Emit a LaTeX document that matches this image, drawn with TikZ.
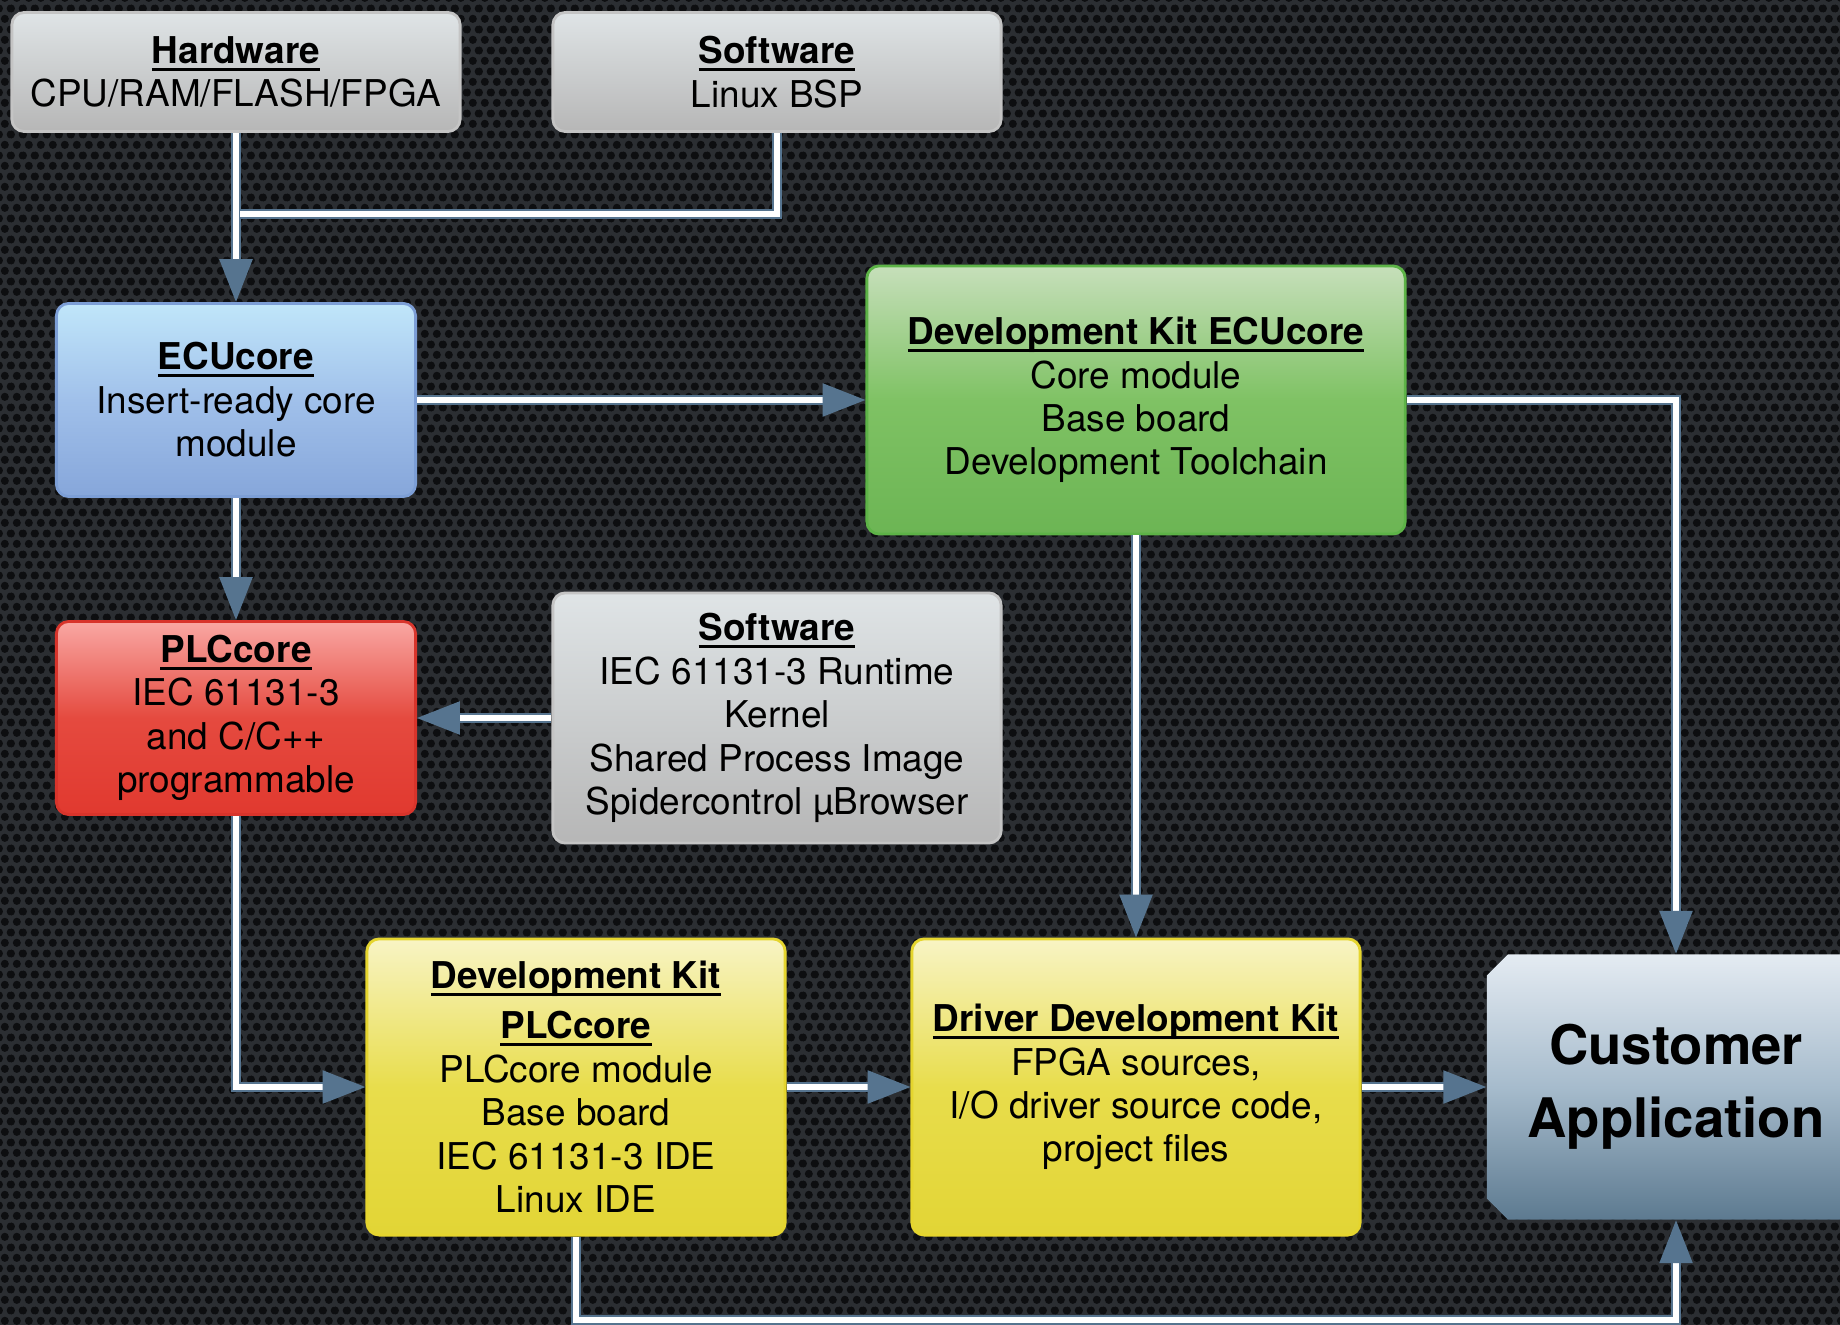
\documentclass[tikz,border=0pt]{standalone}
\usepackage{fontspec}
\setmainfont{TeX Gyre Heros}
\usepackage{xcolor}
\usepackage{tikz}
\usetikzlibrary{arrows.meta,patterns.meta,shapes.misc}

\definecolor{meshbase}{HTML}{2B2E32}
\definecolor{meshhole}{HTML}{0D0E10}
\definecolor{linkblue}{HTML}{56748F}
\definecolor{graytop}{HTML}{DFE4E6}
\definecolor{graybot}{HTML}{B6B6B6}
\definecolor{grayedge}{HTML}{C4C4C4}
\definecolor{bluetop}{HTML}{C0E6FA}
\definecolor{bluemid}{HTML}{A0C0EA}
\definecolor{bluebot}{HTML}{86A6DA}
\definecolor{blueedge}{HTML}{7C9ED6}
\definecolor{greentop}{HTML}{C6DFBA}
\definecolor{greenmid}{HTML}{7FC264}
\definecolor{greenbot}{HTML}{6CB554}
\definecolor{greenedge}{HTML}{5DB347}
\definecolor{redtop}{HTML}{F9A7A3}
\definecolor{redmid}{HTML}{E54A3F}
\definecolor{redbot}{HTML}{E1392F}
\definecolor{rededge}{HTML}{D8342B}
\definecolor{yellowtop}{HTML}{F8F4C4}
\definecolor{yellowmid}{HTML}{E8DD4C}
\definecolor{yellowbot}{HTML}{E2D535}
\definecolor{yellowedge}{HTML}{E5D52E}
\definecolor{custtop}{HTML}{E4EBF2}
\definecolor{custmid}{HTML}{A6BBCC}
\definecolor{custbot}{HTML}{5D7A90}

% bold title with a heavier underline set a little below the baseline
\newcommand{\boxhead}[1]{\setbox0\hbox{\textbf{#1}}\rlap{\rule[-2.1pt]{\wd0}{0.85pt}}\box0}

\tikzdeclarepattern{
  name=mesh holes,
  type=colored,
  bottom left={(0pt,0pt)},
  top right={(3.5pt,6.06pt)},
  tile size={(3.5pt,6.06pt)},
  code={
    \fill[meshhole] (1.75pt,1.515pt) circle (1.2pt);
    \fill[meshhole] (0pt,4.545pt) circle (1.2pt);
    \fill[meshhole] (3.5pt,4.545pt) circle (1.2pt);
  }
}

\tikzset{
  box/.style={rounded corners=3.5pt, line width=0.8pt, align=center, inner sep=0pt,
    font=\fontsize{10.5}{12.35}\selectfont},
  graybox/.style={box, draw=grayedge, top color=graytop, bottom color=graybot},
  bluebox/.style={box, draw=blueedge, top color=bluetop, bottom color=bluebot, middle color=bluemid},
  greenbox/.style={box, draw=greenedge, top color=greentop, bottom color=greenbot, middle color=greenmid},
  redbox/.style={box, draw=rededge, top color=redtop, bottom color=redbot, middle color=redmid},
  yellowbox/.style={box, draw=yellowedge, top color=yellowtop, bottom color=yellowbot, middle color=yellowmid},
  custbox/.style={chamfered rectangle, chamfered rectangle corners={north west,south west},
    chamfered rectangle xsep=3pt, chamfered rectangle ysep=3pt, inner sep=0pt, align=center,
    top color=custtop, bottom color=custbot, middle color=custmid,
    font=\fontsize{15.5}{20.7}\selectfont\bfseries},
  link/.style={draw=linkblue, double=white, double distance=1.7pt, line width=0.6pt},
  arrowlink/.style={link, -{Triangle[width=9.4pt,length=12.2pt]}}
}

\begin{document}
\begin{tikzpicture}[x=0.01cm, y=-0.01cm]
    \useasboundingbox (0,0) rectangle (1840,1325);
    \clip (0,0) rectangle (1840,1325);
    \fill[meshbase] (0,0) rectangle (1840,1325);
    \fill[pattern=mesh holes] (0,0) rectangle (1840,1325);

    % top row
    \node[graybox, minimum width=4.48cm, minimum height=1.19cm] (hw) at (236,72) {\boxhead{Hardware}\\CPU/RAM/FLASH/FPGA};
    \node[graybox, minimum width=4.48cm, minimum height=1.19cm] (swtop) at (777,72) {\boxhead{Software}\\Linux BSP};

    % core modules
    \node[bluebox, minimum width=3.59cm, minimum height=1.93cm] (ecu) at (236,400) {\boxhead{ECUcore}\\Insert-ready core\\module};
    \node[greenbox, minimum width=5.38cm, minimum height=2.68cm] (dkecu) at (1136,400) {\boxhead{Development Kit ECUcore}\\Core module\\Base board\\Development Toolchain};
    \node[redbox, minimum width=3.59cm, minimum height=1.93cm] (plc) at (236,718) {\boxhead{PLCcore}\\IEC 61131-3\\and C/C++\\programmable};
    \node[graybox, minimum width=4.48cm, minimum height=2.50cm] (swmid) at (777,718) {\boxhead{Software}\\IEC 61131-3 Runtime\\Kernel\\Shared Process Image\\Spidercontrol µBrowser};

    % kits
    \node[yellowbox, minimum width=4.18cm, minimum height=2.96cm] (dkplc) at (576,1087) {\boxhead{Development Kit}\\[2pt]\boxhead{PLCcore}\\PLCcore module\\Base board\\IEC 61131-3 IDE\\Linux IDE};
    \node[yellowbox, minimum width=4.48cm, minimum height=2.96cm] (ddk) at (1136,1087) {\boxhead{Driver Development Kit}\\FPGA sources,\\I/O driver source code,\\project files};
    \node[custbox, minimum width=3.78cm, minimum height=2.65cm] (cust) at (1676,1087) {Customer\\Application};

    \coordinate (jn) at (240,214);
    \coordinate (bend) at (576,1320);

    % connectors
    \draw[arrowlink] (hw.south) -- (ecu.north);
    \draw[link] (swtop.south) |- (jn);
    \draw[arrowlink] (ecu.east) -- (dkecu.west);
    \draw[arrowlink] (ecu.south) -- (plc.north);
    \draw[arrowlink] (swmid.west) -- (plc.east);
    \draw[arrowlink] (plc.south) |- (dkplc.west);
    \draw[arrowlink] (dkecu.south) -- (ddk.north);
    \draw[arrowlink] (dkecu.east) -| (cust.north);
    \draw[arrowlink] (dkplc.east) -- (ddk.west);
    \draw[arrowlink] (ddk.east) -- (cust.west);
    \draw[arrowlink] (dkplc.south) -- (bend) -| (cust.south);
\end{tikzpicture}
\end{document}
